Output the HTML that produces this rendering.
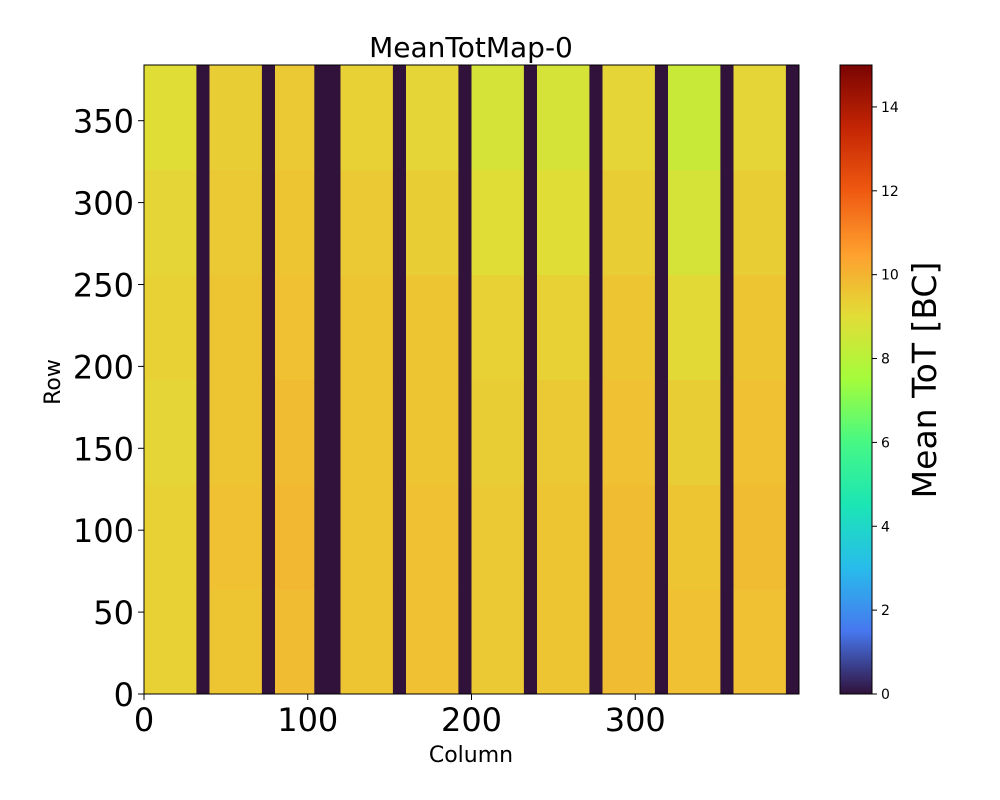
<!DOCTYPE html>
<html><head><meta charset="utf-8">
<style>
html,body{margin:0;padding:0;background:#fff;}
svg{display:block;font-family:"DejaVu Sans","Liberation Sans",sans-serif;}
</style></head>
<body>
<svg id="chart" width="1000" height="800" viewBox="0 0 1000 800" xmlns="http://www.w3.org/2000/svg">
<rect width="1000" height="800" fill="#fff"/>
<text x="471" y="57" font-size="28" text-anchor="middle">MeanTotMap-0</text>
<g id="heat"></g>
<rect x="144" y="65" width="655" height="629" fill="none" stroke="#000" stroke-width="1"/>
<g id="xticks"></g>
<g id="yticks"></g>
<text x="471" y="762" font-size="22" text-anchor="middle">Column</text>
<text transform="translate(60,382) rotate(-90)" font-size="22" text-anchor="middle">Row</text>
<defs><linearGradient id="cbgrad" x1="0" y1="1" x2="0" y2="0"></linearGradient></defs>
<rect x="840" y="65" width="32" height="629" fill="url(#cbgrad)" stroke="#000" stroke-width="1"/>
<g id="cbticks"></g>
<text transform="translate(936,380) rotate(-90)" font-size="33" text-anchor="middle">Mean ToT [BC]</text>
</svg>
<script>
// data
const nCols = 400;
const nRows = 384;
const liveStart = [0, 40, 80, 120, 160, 200, 240, 280, 320, 360];
const liveEnd   = [32, 72, 104, 152, 192, 232, 272, 312, 352, 392];
const rowBinEdges = [0, 64, 128, 192, 256, 320, 384];
// mean ToT per live band per row bin (bottom to top)
const bandMeans = [
  [9.3, 9.3, 9.2, 9.3, 9.2, 9.0],
  [9.6, 9.7, 9.6, 9.6, 9.5, 9.4],
  [9.8, 9.9, 9.8, 9.7, 9.6, 9.5],
  [9.6, 9.6, 9.6, 9.6, 9.5, 9.3],
  [9.7, 9.7, 9.6, 9.6, 9.4, 9.2],
  [9.5, 9.5, 9.4, 9.3, 9.0, 8.7],
  [9.6, 9.6, 9.5, 9.3, 9.0, 8.7],
  [9.8, 9.8, 9.7, 9.6, 9.4, 9.2],
  [9.7, 9.6, 9.4, 9.1, 8.7, 8.4],
  [9.7, 9.8, 9.7, 9.6, 9.4, 9.2]
];
const deadValue = 0;
const vMin = 0, vMax = 15;
const xTickVals = [0, 100, 200, 300];
const yTickVals = [0, 50, 100, 150, 200, 250, 300, 350];
const cbTickVals = [0, 2, 4, 6, 8, 10, 12, 14];

// scales
const X0 = 144, X1 = 799, Y0 = 694, Y1 = 65;
const xs = c => X0 + c * (X1 - X0) / nCols;
const ys = r => Y0 - r * (Y0 - Y1) / nRows;
const cbY = v => 694 - (v - vMin) / (vMax - vMin) * 629;
const LUT = [[48,18,59],[71,119,239],[40,188,235],[27,229,181],[70,248,132],[164,252,59],[225,221,55],[254,160,46],[239,89,17],[196,37,3],[122,4,3]];
function turbo(t){
  t = Math.max(0, Math.min(1, t)) * 10;
  const i = Math.min(9, Math.floor(t)), f = t - i;
  const a = LUT[i], b = LUT[i + 1];
  return `rgb(${a.map((v, k) => Math.round(v + (b[k] - v) * f)).join(',')})`;
}
const col = v => turbo((v - vMin) / (vMax - vMin));
const NS = "http://www.w3.org/2000/svg";
function mk(tag, attrs, parent){
  const e = document.createElementNS(NS, tag);
  for (const k in attrs) e.setAttribute(k, attrs[k]);
  parent.appendChild(e);
  return e;
}
const heat = document.getElementById('heat');
const bg = mk('rect', {x: xs(0), y: ys(nRows), width: xs(nCols) - xs(0), height: ys(0) - ys(nRows), fill: col(deadValue)}, heat);


liveStart.forEach((s, i) => {
  for (let b = 0; b < rowBinEdges.length - 1; b++){
    const r = mk('rect', {
      x: xs(s), y: ys(rowBinEdges[b + 1]),
      width: xs(liveEnd[i]) - xs(s),
      height: ys(rowBinEdges[b]) - ys(rowBinEdges[b + 1]) + 0.5,
      fill: col(bandMeans[i][b])
    }, heat);
    
    
  }
});
const xt = document.getElementById('xticks');
xTickVals.forEach(v => {
  const l = mk('line', {x1: xs(v), x2: xs(v), y1: 694, y2: 700, stroke: '#000'}, xt);
  
  
  const t = mk('text', {x: xs(v), y: 731, 'font-size': 32, 'text-anchor': 'middle'}, xt);
  t.textContent = v;
  
  
});
const yt = document.getElementById('yticks');
yTickVals.forEach(v => {
  const l = mk('line', {x1: 138, x2: 144, y1: ys(v), y2: ys(v), stroke: '#000'}, yt);
  
  
  const t = mk('text', {x: 134, y: ys(v) + 12, 'font-size': 32, 'text-anchor': 'end'}, yt);
  t.textContent = v;
  
  
});
const grad = document.getElementById('cbgrad');
for (let i = 0; i <= 50; i++){
  mk('stop', {offset: (i / 50), 'stop-color': turbo(i / 50)}, grad);
}
const cbt = document.getElementById('cbticks');
cbTickVals.forEach(v => {
  const l = mk('line', {x1: 872, x2: 877, y1: cbY(v), y2: cbY(v), stroke: '#000'}, cbt);
  
  
  const t = mk('text', {x: 881, y: cbY(v) + 5, 'font-size': 14}, cbt);
  t.textContent = v;
  
  
});
</script>
</body></html>
